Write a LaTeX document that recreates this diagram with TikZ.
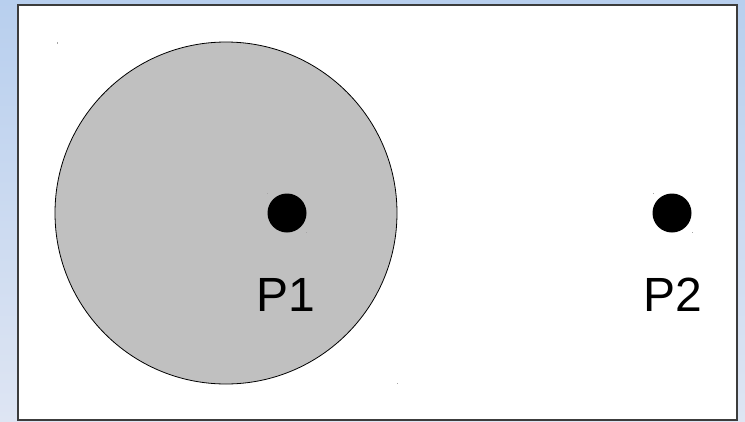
\documentclass[tikz,border=0pt]{standalone}
\usepackage{fontspec}
\setmainfont{Liberation Sans}
\begin{document}
\begin{tikzpicture}[x=1pt,y=-1pt,
  dot/.style={circle,fill=black,inner sep=0pt,minimum size=39pt},
  lbl/.style={font=\fontsize{48}{52}\selectfont,inner sep=0pt},
  tinymark/.style={fill=gray!70,draw=none}]
\useasboundingbox (0,0) rectangle (745,421);
\shade[top color={rgb,255:red,184;green,207;blue,238},bottom color={rgb,255:red,222;green,229;blue,243}] (0,0) rectangle (745,421);
\fill[white] (18,5) rectangle (737,420);
\draw[line width=1.4pt,color={rgb,255:red,60;green,60;blue,60}] (18,5) rectangle (737,420);
\draw[fill={rgb,255:red,192;green,192;blue,192},line width=0.8pt] (226,213) circle (171);
\node[dot] (p1) at (287,213) {};
\node[dot] (p2) at (672,213) {};
\node[lbl] (l1) at (286,294.5) {P1};
\node[lbl] (l2) at (673,294.5) {P2};
\fill[tinymark] (56.5,42) rectangle +(1,1.5);
\fill[tinymark] (267,193) rectangle +(1,1);
\fill[tinymark] (306,232) rectangle +(1,1);
\fill[tinymark] (653,193) rectangle +(1,1);
\fill[tinymark] (692,232) rectangle +(1,1);
\fill[tinymark] (396.5,382.5) rectangle +(1,1);
\end{tikzpicture}
\end{document}
